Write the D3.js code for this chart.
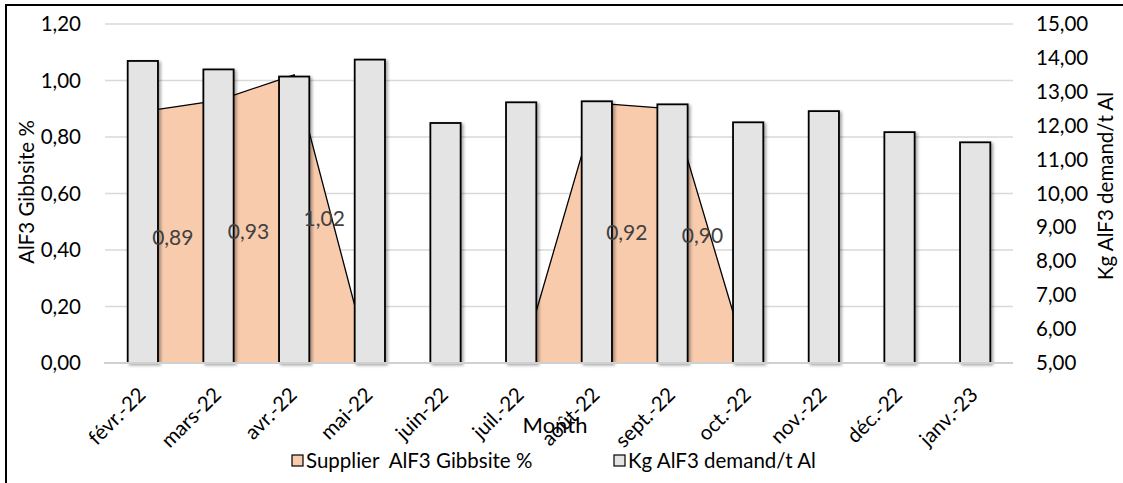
<!DOCTYPE html>
<html>
<head>
<meta charset="utf-8">
<script src="https://cdn.jsdelivr.net/npm/d3@7"></script>
<style>
  html, body { margin: 0; padding: 0; background: #fff; }
  svg { display: block; }
  text { font-family: Lato, "Liberation Sans", sans-serif; fill: #000; }
</style>
</head>
<body>
<svg id="chart" width="1123" height="483"></svg>
<script>
// Month categories
const months = ["févr.-22", "mars-22", "avr.-22", "mai-22", "juin-22", "juil.-22",
                "août-22", "sept.-22", "oct.-22", "nov.-22", "déc.-22", "janv.-23"];
// Supplier AlF3 Gibbsite % (blank months plotted at zero, unlabelled)
const gibbsite = [0.89, 0.93, 1.02, null, null, null, 0.92, 0.90, null, null, null, null];
// Kg AlF3 demand per tonne Al
const demand = [13.91, 13.66, 13.45, 13.95, 12.08, 12.69, 12.72, 12.63, 12.10, 12.43, 11.81, 11.51];
// Axis ticks
const leftTicks = [0, 0.2, 0.4, 0.6, 0.8, 1.0, 1.2];
const rightTicks = [5, 6, 7, 8, 9, 10, 11, 12, 13, 14, 15];

const fr = d3.formatLocale({ decimal: ",", thousands: " ", grouping: [3], currency: ["", " €"] });
const fmt2 = fr.format(".2f");

const svg = d3.select("#chart");
const plot = { left: 105, right: 1013, top: 24, bottom: 363 };

const x = d3.scaleBand().domain(months).range([plot.left, plot.right])
  .paddingInner(0.6).paddingOuter(0.3);
const yL = d3.scaleLinear().domain([0, 1.2]).range([plot.bottom, plot.top]);
const yR = d3.scaleLinear().domain([5, 15]).range([plot.bottom, plot.top]);
const cx = m => x(m) + x.bandwidth() / 2;

// Shadow for columns
const defs = svg.append("defs");
const f = defs.append("filter").attr("id", "shadow").attr("x", "-30%").attr("y", "-10%")
  .attr("width", "160%").attr("height", "120%");
f.append("feDropShadow").attr("dx", 2).attr("dy", 1.5).attr("stdDeviation", 1.6)
  .attr("flood-color", "#000").attr("flood-opacity", 0.35);

// Outer frame
svg.append("rect").attr("x", 6).attr("y", 5).attr("width", 1140).attr("height", 500)
  .attr("fill", "none").attr("stroke", "#000").attr("stroke-width", 2);

// Gridlines
svg.append("g").selectAll("line").data(leftTicks.slice(1)).join("line")
  .attr("x1", plot.left).attr("x2", plot.right)
  .attr("y1", d => yL(d)).attr("y2", d => yL(d))
  .attr("stroke", "#d9d9d9").attr("stroke-width", 1.5);

// Area series (primary axis)
const pts = months.map((m, i) => ({ m, v: gibbsite[i] == null ? 0 : gibbsite[i] }));
svg.append("path").datum(pts)
  .attr("d", d3.area().x(d => cx(d.m)).y0(yL(0)).y1(d => yL(d.v)))
  .attr("fill", "#f8cbad");
svg.append("path").datum(pts)
  .attr("d", d3.line().x(d => cx(d.m)).y(d => yL(d.v)))
  .attr("fill", "none").attr("stroke", "#000").attr("stroke-width", 1.3);

// Columns (secondary axis)
svg.append("g").selectAll("rect").data(months).join("rect")
  .attr("x", d => x(d)).attr("width", x.bandwidth())
  .attr("y", (d, i) => yR(demand[i]))
  .attr("height", (d, i) => yR(5) - yR(demand[i]))
  .attr("fill", "#e4e4e4").attr("stroke", "#000").attr("stroke-width", 1.8)
  .attr("filter", "url(#shadow)");

// Category axis line
svg.append("line").attr("x1", plot.left - 1).attr("x2", plot.right)
  .attr("y1", plot.bottom).attr("y2", plot.bottom)
  .attr("stroke", "#d0d0d0").attr("stroke-width", 2.2);

// Left axis
const axL = svg.append("g").attr("transform", `translate(${plot.left - 24},0)`)
  .call(d3.axisLeft(yL).tickValues(leftTicks).tickFormat(fmt2).tickSize(0).tickPadding(0));
axL.select(".domain").remove();
axL.selectAll("text").attr("font-size", 20.5).attr("font-family", "Lato").attr("fill", "#000");

// Right axis
const axR = svg.append("g").attr("transform", `translate(${plot.right + 23},0)`)
  .call(d3.axisRight(yR).tickValues(rightTicks).tickFormat(fmt2).tickSize(0).tickPadding(0));
axR.select(".domain").remove();
axR.selectAll("text").attr("font-size", 20.5).attr("font-family", "Lato").attr("fill", "#000");

// Category labels, rotated
svg.append("g").selectAll("text").data(months).join("text")
  .attr("transform", d => `translate(${cx(d) + 4},396) rotate(-45)`)
  .attr("text-anchor", "end").attr("font-size", 20.5).text(d => d);

// Data labels, at half the area height
svg.append("g").selectAll("text")
  .data(months.map((m, i) => ({ m, v: gibbsite[i] })).filter(d => d.v != null))
  .join("text")
  .attr("x", d => cx(d.m) + 30).attr("y", d => yL(d.v / 2))
  .attr("dy", "0.35em").attr("text-anchor", "middle")
  .attr("font-family", "'Open Sans', sans-serif").attr("font-size", 21)
  .style("fill", "#404040").text(d => fmt2(d.v));

// Axis titles
svg.append("text").attr("transform", "translate(34,192) rotate(-90)")
  .attr("text-anchor", "middle").attr("font-size", 20.5).text("AlF3 Gibbsite %");
svg.append("text").attr("transform", "translate(1113,186) rotate(-90)")
  .attr("text-anchor", "middle").attr("font-size", 20.5).text("Kg AlF3 demand/t Al");
svg.append("text").attr("x", 555).attr("y", 433).attr("text-anchor", "middle")
  .attr("font-size", 22).text("Month");

// Legend
const legend = [
  { label: "Supplier\u00a0\u00a0AlF3 Gibbsite %", fill: "#f8cbad", x: 292 },
  { label: "Kg AlF3 demand/t Al", fill: "#e4e4e4", x: 614 }
];
const lg = svg.append("g").selectAll("g").data(legend).join("g")
  .attr("transform", d => `translate(${d.x},455)`);
lg.append("rect").attr("width", 11).attr("height", 11)
  .attr("fill", d => d.fill).attr("stroke", "#000").attr("stroke-width", 1.2);
lg.append("text").attr("x", 14).attr("y", 6).attr("dy", "0.36em")
  .attr("font-size", 20.5).text(d => d.label);
</script>
</body>
</html>
